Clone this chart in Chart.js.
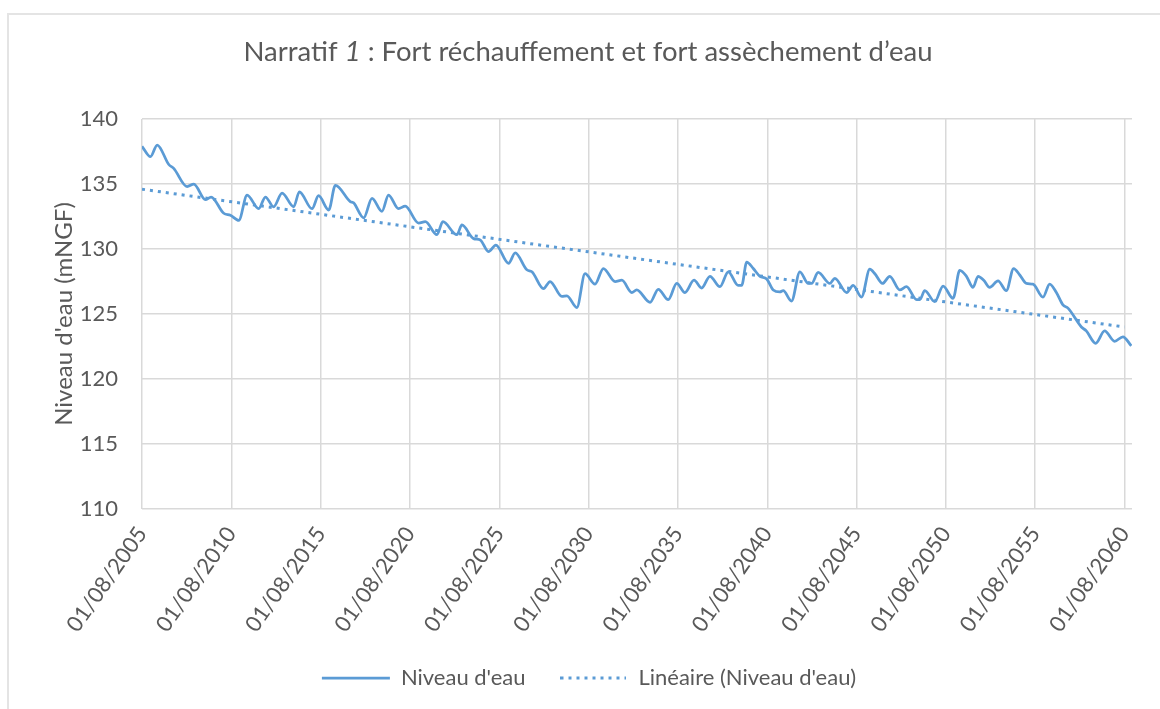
<!DOCTYPE html>
<html><head><meta charset="utf-8">
<script src="https://cdn.jsdelivr.net/npm/chart.js@4"></script>
<style>
html,body{margin:0;padding:0;background:#fff;}
#wrap{position:relative;width:1160px;height:709px;overflow:hidden;}
#frame{position:absolute;left:7px;top:13px;width:1200px;height:800px;border-left:2px solid #e4e4e4;border-top:2px solid #e4e4e4;pointer-events:none;}
</style></head>
<body><div id="wrap"><canvas id="c" width="1160" height="709"></canvas><div id="frame"></div></div>
<script>
// months since 01/08/2005
const months = [0,5.7,10.2,18,21.3,30.3,34.8,42.6,46.4,54.9,59.4,65,70.6,78.4,82.9,88.4,94.1,101.9,105.7,114.2,118.6,125.4,129.9,139.9,142.1,148.9,154.5,161.2,165.6,172.3,176.8,185.8,190.3,198.1,202.1,211.5,214.9,222.7,227.2,232.7,237.7,246.2,250.7,258.5,261.9,269.7,274.1,282,285.4,292.1,297.6,304.3,309.9,317.8,322.3,329,332.3,341.3,346.8,353.5,359.2,364.7,370.8,375.9,381.5,388.2,393.8,400.5,402.8,406.2,410.6,415.1,419.6,424,428.5,430.7,436.3,441.9,447.5,449.8,454.2,462.1,465.4,473.3,477.7,483.3,488.9,492.3,497.4,502.3,509,513.5,520.3,522.5,525.8,532.5,538.1,544.8,549.3,553.8,558.2,561.6,565.4,569.4,575,580.6,585.5,589.6,594.1,598.5,605.2,609.7,614.2,618.6,622,631,634.3,640.6,646.6,653.3,658.9,664.5];
const levels = [137.9,137.1,138.0,136.5,136.2,134.8,135.0,133.8,134.0,132.75,132.6,132.2,134.15,133.1,134.0,133.25,134.3,133.25,134.4,133.1,134.1,133.0,134.9,133.65,133.55,132.4,133.9,132.9,134.15,133.1,133.3,132.0,132.1,131.1,132.1,131.1,131.85,130.8,130.7,129.8,130.3,128.9,129.7,128.4,128.25,126.95,127.5,126.35,126.4,125.5,128.1,127.3,128.5,127.5,127.6,126.65,126.85,125.9,126.9,126.1,127.35,126.65,127.6,127.0,127.9,127.1,128.25,127.2,127.2,129.0,128.5,127.9,127.7,126.85,126.7,126.8,126.0,128.25,127.35,127.35,128.2,127.35,127.75,126.65,127.2,126.3,128.45,128.1,127.35,127.9,126.85,127.1,126.1,126.1,126.8,125.95,127.15,126.2,128.35,127.9,127.05,127.9,127.6,127.05,127.55,126.8,128.5,128.0,127.35,127.3,126.3,127.3,126.65,125.7,125.45,124.0,123.7,122.75,123.7,122.9,123.25,122.55];
const trendMonths = [0, 660];
const trendLevels = [134.6, 124.0];
const tickMonths = [0,60,120,180,240,300,360,420,480,540,600,660];
const tickLabels = ['01/08/2005','01/08/2010','01/08/2015','01/08/2020','01/08/2025','01/08/2030','01/08/2035','01/08/2040','01/08/2045','01/08/2050','01/08/2055','01/08/2060'];
const seriesNames = ["Niveau d'eau", "Linéaire (Niveau d'eau)"];
const chartTitle = ['Narratif ', '1', ' : Fort réchauffement et fort assèchement d’eau'];
const yTitle = "Niveau d'eau (mNGF)";

const FONT = 'Lato';
const TXT = '#595959';
const BLUE = '#5B9BD5';
const GRID = '#d9d9d9';

// legend sample for the dotted trend line
const dotSample = document.createElement('canvas');
dotSample.width = 66; dotSample.height = 4;
(function () {
  const c = dotSample.getContext('2d');
  c.strokeStyle = BLUE; c.lineWidth = 3; c.setLineDash([3, 5]);
  c.beginPath(); c.moveTo(0, 2); c.lineTo(66, 2); c.stroke();
})();

const titlePlugin = {
  id: 'richTitle',
  afterDraw(chart) {
    const ctx = chart.ctx;
    ctx.save();
    ctx.fillStyle = TXT;
    ctx.textBaseline = 'middle';
    ctx.textAlign = 'left';
    const size = 27.5;
    const fonts = [`${size}px ${FONT}`, `italic ${size}px ${FONT}`, `${size}px ${FONT}`];
    const widths = chartTitle.map((t, i) => { ctx.font = fonts[i]; return ctx.measureText(t).width; });
    const total = widths.reduce((a, b) => a + b, 0);
    let x = 588 - total / 2;
    chartTitle.forEach((t, i) => { ctx.font = fonts[i]; ctx.fillText(t, x, 52); x += widths[i]; });
    ctx.restore();
  }
};

new Chart(document.getElementById('c'), {
  type: 'line',
  data: {
    datasets: [
      { label: seriesNames[0], data: months.map((m, i) => ({x: m, y: levels[i]})),
        borderColor: BLUE, backgroundColor: BLUE, borderWidth: 2.75, pointRadius: 0,
        pointStyle: 'line', cubicInterpolationMode: 'monotone', fill: false },
      { label: seriesNames[1], data: trendMonths.map((m, i) => ({x: m, y: trendLevels[i]})),
        borderColor: BLUE, backgroundColor: BLUE, borderWidth: 3, pointRadius: 0,
        pointStyle: dotSample, borderDash: [3, 5], fill: false }
    ]
  },
  options: {
    responsive: false,
    animation: false,
    layout: { padding: { left: 46, right: 28, top: 119, bottom: 10 } },
    plugins: {
      title: { display: false },
      tooltip: { enabled: false },
      legend: {
        position: 'bottom',
        labels: {
          usePointStyle: true, pointStyleWidth: 68,
          padding: 34, color: TXT, font: { family: FONT, size: 22 }
        }
      }
    },
    scales: {
      x: {
        type: 'linear', min: 0, max: 665,
        afterBuildTicks: s => { s.ticks = tickMonths.map(v => ({ value: v })); },
        afterFit: s => { s.height = 124; s.paddingLeft = 0; s.paddingRight = 0; },
        ticks: {
          minRotation: 55, maxRotation: 55, padding: 13, color: TXT,
          font: { family: FONT, size: 22 },
          callback: (v) => { const i = tickMonths.indexOf(v); return i >= 0 ? tickLabels[i] : ''; }
        },
        grid: { color: GRID, lineWidth: 1.5, drawTicks: false },
        border: { display: false }
      },
      y: {
        min: 110, max: 140,
        afterFit: s => { s.width = 96; s.paddingTop = 0; s.paddingBottom = 0; },
        ticks: { stepSize: 5, padding: 24, color: TXT, font: { family: FONT, size: 22 } },
        grid: { color: GRID, lineWidth: 1.5, drawTicks: false },
        border: { display: false },
        title: { display: true, text: yTitle, color: TXT, font: { family: FONT, size: 24 } }
      }
    }
  },
  plugins: [titlePlugin]
});
</script>
</body></html>
